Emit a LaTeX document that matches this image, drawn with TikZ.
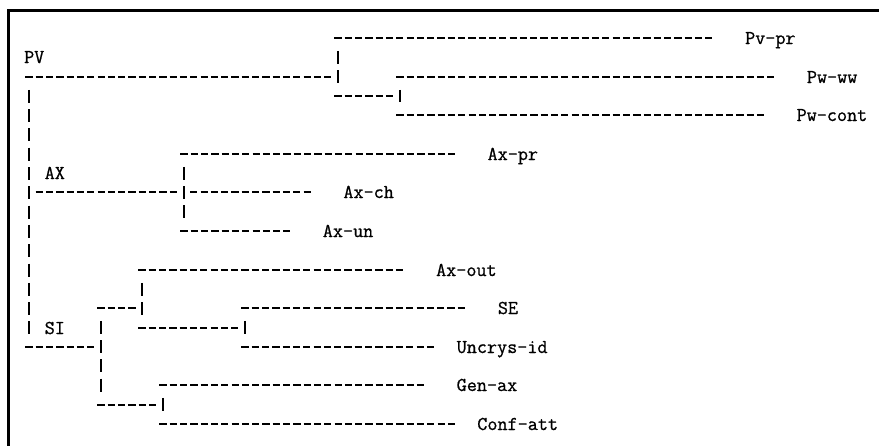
\documentclass[tikz,border=0pt]{standalone}
\usepackage{fontspec}
\usepackage{tikz}
\newfontfamily\leafmono{Latin Modern Mono}[FakeBold=0.8]

\tikzset{
  twig/.style={line width=1.5pt, dash pattern=on 5.4pt off 2.325pt, shorten <=-2.7pt, shorten >=-2.7pt},
  stem/.style={line width=1.5pt, dash pattern=on 9.75pt off 4.725pt, shorten <=9.6pt, shorten >=9.6pt},
  leaf/.style={anchor=base west, inner sep=0pt, font=\fontsize{14.7}{17}\selectfont\leafmono},
}

\begin{document}
\begin{tikzpicture}[x=0.75pt,y=0.75pt,yscale=-1,xscale=1]
\useasboundingbox (0,0) rectangle (879,446);
%Shape: Frame
\draw [line width=2.25pt] (8,446) -- (8,10) -- (879,10) ;

% Coordinates of the stems and of the ends of the twigs
\coordinate (root-t) at (29,77);
\coordinate (root-b) at (29,347);
\coordinate (pv-e) at (327.7,77);
\coordinate (ax-s) at (39.3,192);
\coordinate (ax-e) at (173.2,192);
\coordinate (si-e) at (90.8,347);
\coordinate (pv-t) at (338,38);
\coordinate (pv-b) at (338,96);
\coordinate (pvpr-e) at (708.8,38);
\coordinate (pw-e) at (389.5,96);
\coordinate (pw-t) at (400,77);
\coordinate (pw-b) at (400,115);
\coordinate (pwww-e) at (770.6,77);
\coordinate (pwcont-e) at (760.3,115);
\coordinate (ax-t) at (184,154);
\coordinate (ax-b) at (184,231);
\coordinate (axpr-e) at (451.3,154);
\coordinate (axch-s) at (193.8,192);
\coordinate (axch-e) at (307.1,192);
\coordinate (axun-e) at (286.5,231);
\coordinate (si-t) at (101,308);
\coordinate (si-b) at (101,405);
\coordinate (out-e) at (132,308);
\coordinate (out-t) at (142,270);
\coordinate (out-b) at (142,328);
\coordinate (axout-e) at (399.8,270);
\coordinate (se-e) at (235,328);
\coordinate (se-t) at (245,308);
\coordinate (se-b) at (245,347);
\coordinate (sese-e) at (461.6,308);
\coordinate (uncr-e) at (430.7,347);
\coordinate (gen-e) at (152.6,405);
\coordinate (gen-t) at (163,385);
\coordinate (gen-b) at (163,424);
\coordinate (genax-e) at (420.4,385);
\coordinate (conf-e) at (451.3,424);

%Straight Lines
\draw [stem] (root-t) -- (root-b) ;
\draw [twig] (root-t) -- (pv-e) ;
\draw [twig] (ax-s) -- (ax-e) ;
\draw [twig] (root-b) -- (si-e) ;
%Straight Lines
\draw [stem] (pv-t) -- (pv-b) ;
\draw [twig] (pv-t) -- (pvpr-e) ;
\draw [twig] (pv-b) -- (pw-e) ;
\draw [stem] (pw-t) -- (pw-b) ;
\draw [twig] (pw-t) -- (pwww-e) ;
\draw [twig] (pw-b) -- (pwcont-e) ;
%Straight Lines
\draw [stem] (ax-t) -- (ax-b) ;
\draw [twig] (ax-t) -- (axpr-e) ;
\draw [twig] (axch-s) -- (axch-e) ;
\draw [twig] (ax-b) -- (axun-e) ;
%Straight Lines
\draw [stem] (si-t) -- (si-b) ;
\draw [twig] (si-t) -- (out-e) ;
\draw [stem] (out-t) -- (out-b) ;
\draw [twig] (out-t) -- (axout-e) ;
\draw [twig] (out-b) -- (se-e) ;
\draw [stem] (se-t) -- (se-b) ;
\draw [twig] (se-t) -- (sese-e) ;
\draw [twig] (se-b) -- (uncr-e) ;
\draw [twig] (si-b) -- (gen-e) ;
\draw [stem] (gen-t) -- (gen-b) ;
\draw [twig] (gen-t) -- (genax-e) ;
\draw [twig] (gen-b) -- (conf-e) ;

% Text Node
\node [leaf] (PV) at (23.85,63) {PV};
\node [leaf] (AX) at (44.45,179) {AX};
\node [leaf] (SI) at (44.45,334) {SI};
% Text Node
\node [leaf] (Pvpr) at (744.85,44) {Pv-pr};
\node [leaf] (Pwww) at (806.65,83) {Pw-ww};
\node [leaf] (Pwcont) at (796.35,121) {Pw-cont};
\node [leaf] (Axpr) at (487.35,160) {Ax-pr};
\node [leaf] (Axch) at (343.15,198) {Ax-ch};
\node [leaf] (Axun) at (322.55,237) {Ax-un};
\node [leaf] (Axout) at (435.85,276) {Ax-out};
\node [leaf] (SE) at (497.65,314) {SE};
\node [leaf] (Uncrys) at (456.45,353) {Uncrys-id};
\node [leaf] (Genax) at (456.45,391) {Gen-ax};
\node [leaf] (Confatt) at (477.05,430) {Conf-att};

\end{tikzpicture}
\end{document}
